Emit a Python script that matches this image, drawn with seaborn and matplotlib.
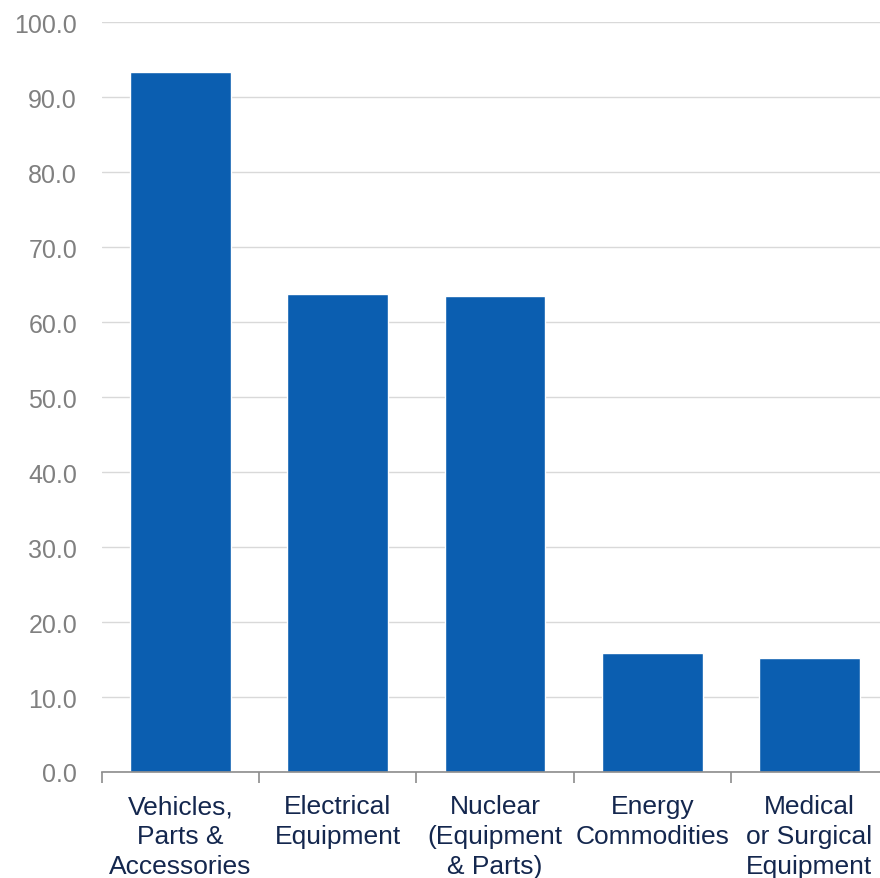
import matplotlib
matplotlib.use("Agg")
import pandas as pd
import seaborn as sns
from matplotlib import pyplot as plt
import matplotlib.ticker as ticker

# chart data
categories = [
    "Vehicles,\nParts &\nAccessories",
    "Electrical\nEquipment",
    "Nuclear\n(Equipment\n& Parts)",
    "Energy\nCommodities",
    "Medical\nor Surgical\nEquipment",
]
values = [93.4, 63.7, 63.5, 15.9, 15.2]

y_ticks = [0, 10, 20, 30, 40, 50, 60, 70, 80, 90, 100]

bar_color = "#0B5EB0"

df = pd.DataFrame({"Category": categories, "Value": values})

sns.set_theme(style="white")
plt.rcParams["font.family"] = ["Liberation Sans", "DejaVu Sans"]

fig = plt.figure(figsize=(8.8, 8.79), dpi=100)
ax = fig.add_axes([102 / 880, 106 / 879, 786 / 880, 749.7 / 879])

sns.barplot(data=df, x="Category", y="Value", color=bar_color,
            width=0.64, saturation=1, ax=ax, zorder=3)

ax.set_xlim(-0.5, len(categories) - 0.5)
ax.set_ylim(0, 100)
ax.set_yticks(y_ticks)
ax.yaxis.set_major_formatter(ticker.FormatStrFormatter("%.1f"))
ax.grid(axis="y", color="#d9d9d9", linewidth=1, zorder=0)
ax.set_axisbelow(True)

for side in ["top", "right", "left"]:
    ax.spines[side].set_visible(False)
ax.spines["bottom"].set_color("#8c8c8c")
ax.spines["bottom"].set_linewidth(1.2)
ax.spines["bottom"].set_zorder(4)

# category boundary ticks
ax.xaxis.set_minor_locator(ticker.FixedLocator(
    [i - 0.5 for i in range(len(categories) + 1)]))
ax.tick_params(axis="x", which="minor", bottom=True, length=8,
               width=1.2, color="#8c8c8c", direction="out")
ax.tick_params(axis="x", which="major", bottom=False, length=0, pad=16,
               labelsize=19, labelcolor="#14274e")
ax.tick_params(axis="y", left=False, length=0, pad=18,
               labelsize=18, labelcolor="#808080")
for lbl in ax.get_xticklabels():
    lbl.set_linespacing(1.3)

ax.set_xlabel("")
ax.set_ylabel("")

fig.savefig("out.png", dpi=100)
